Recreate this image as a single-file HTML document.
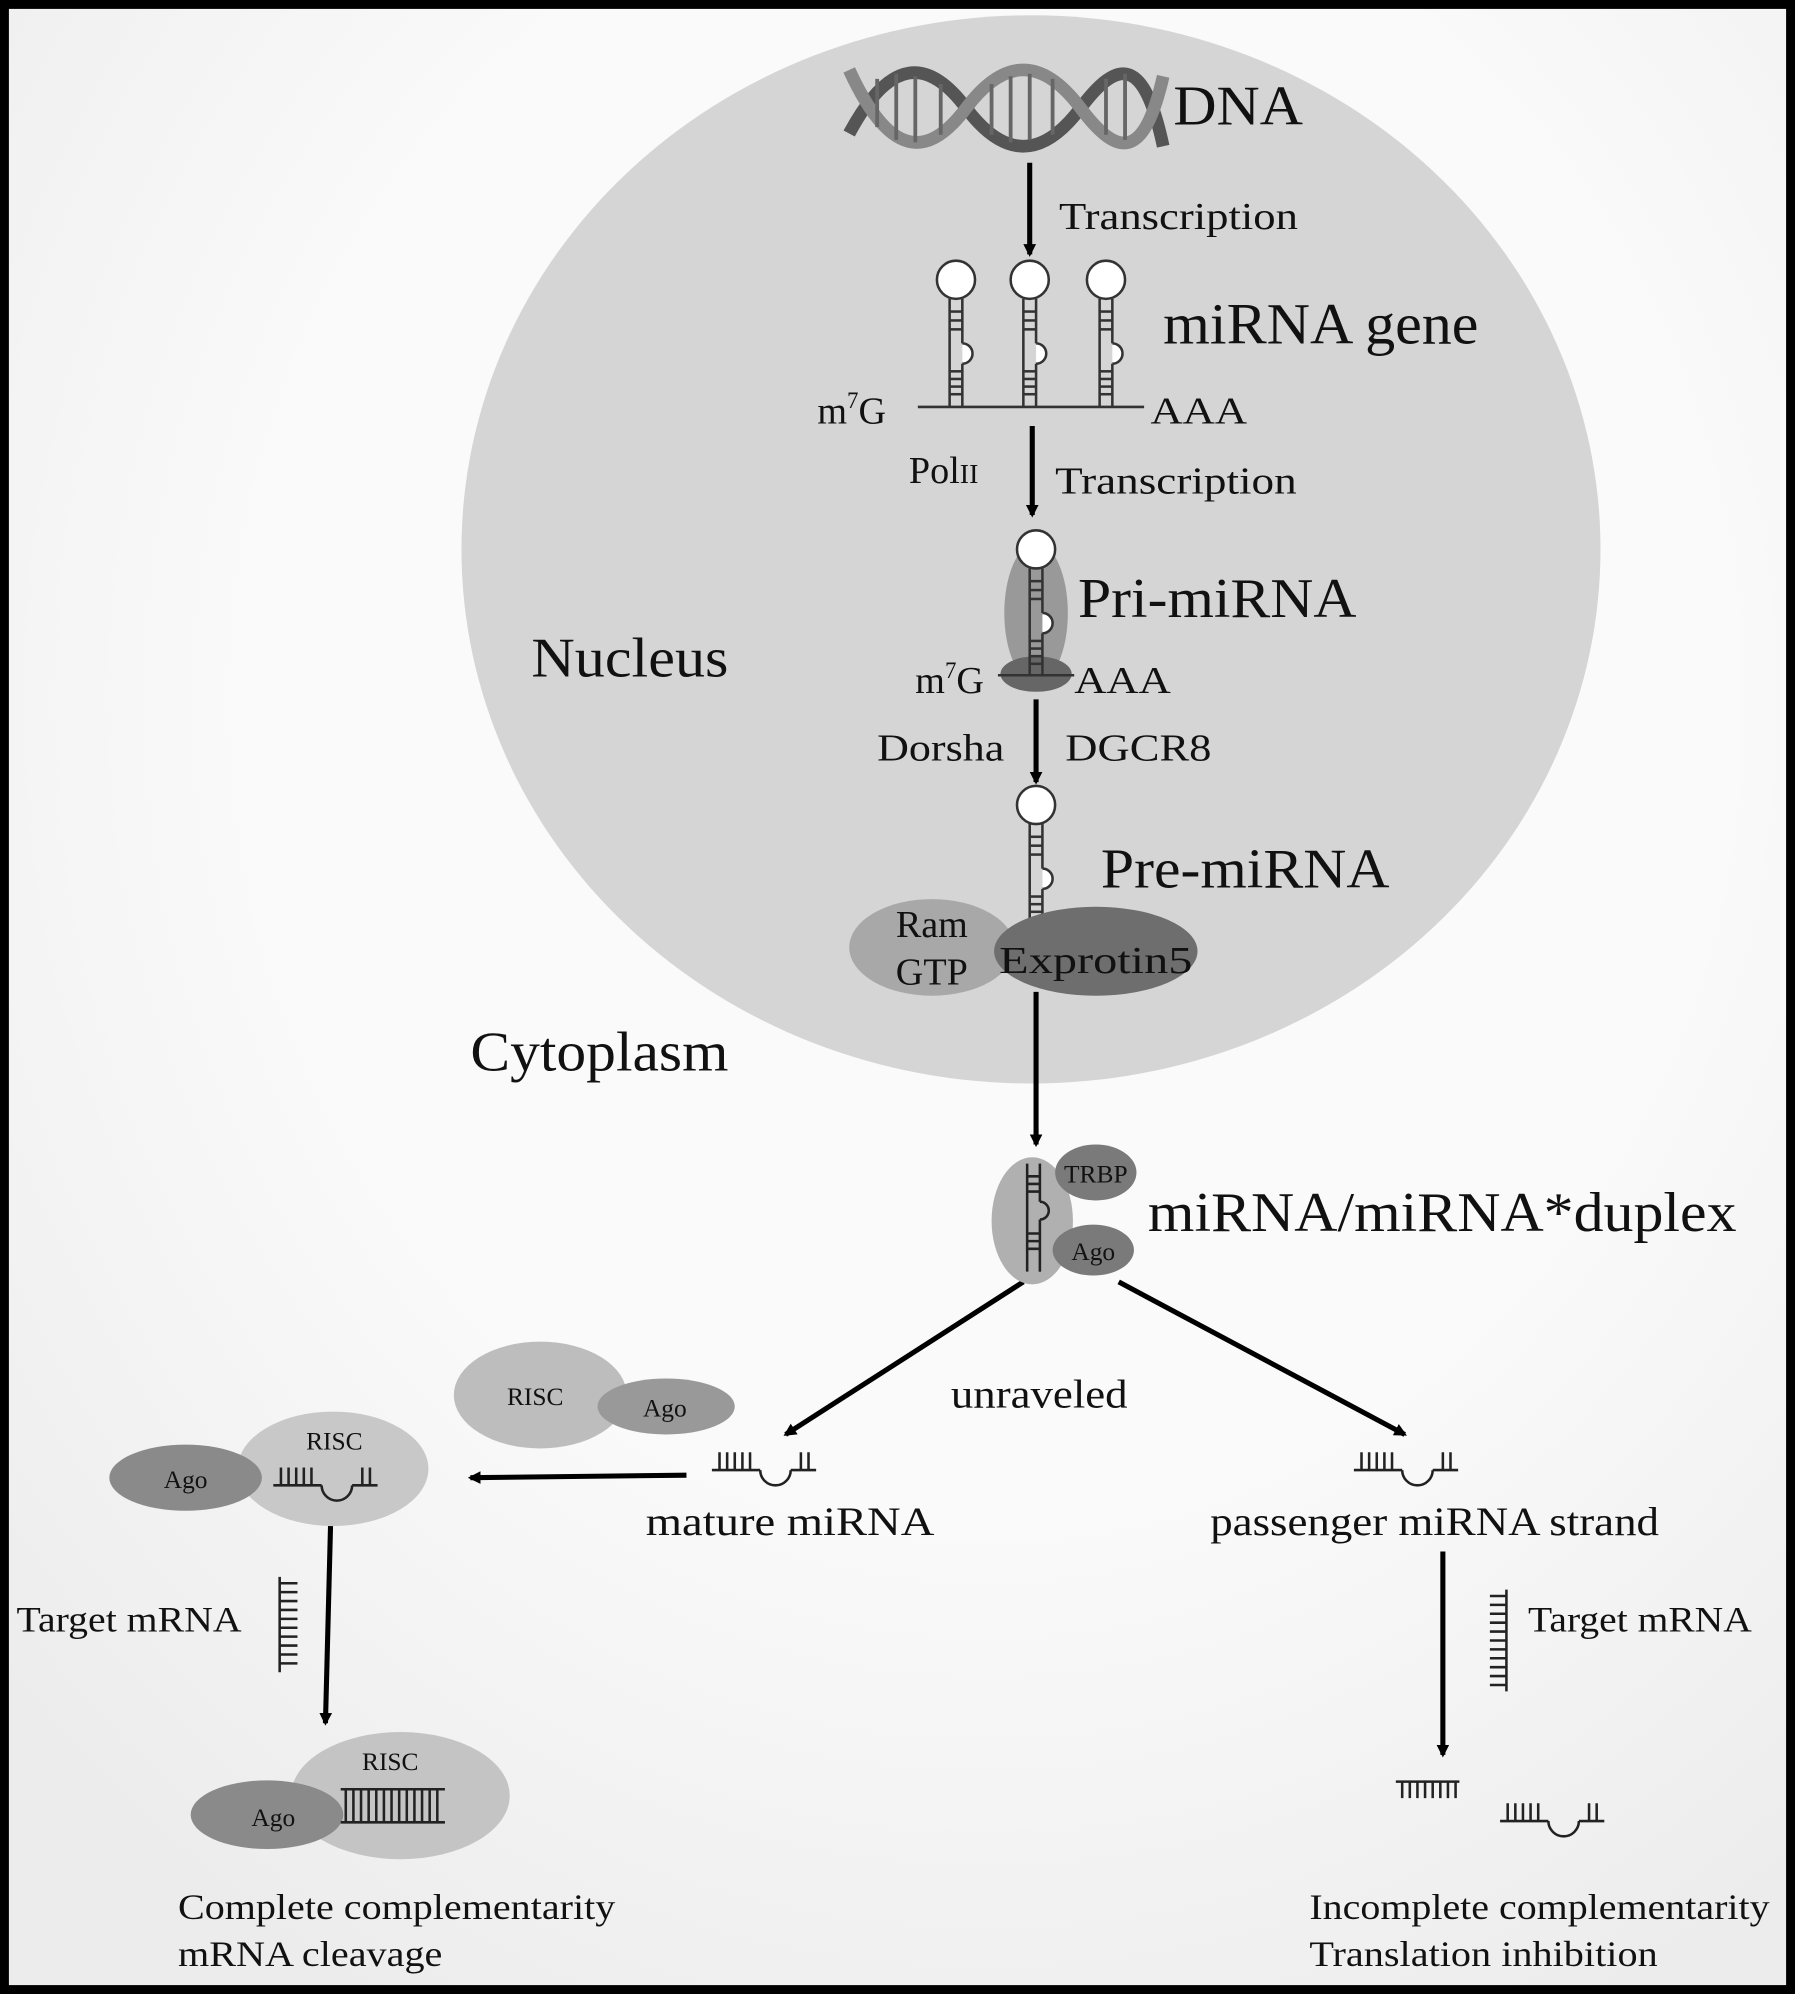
<!DOCTYPE html>
<html><head><meta charset="utf-8"><style>
html,body{margin:0;padding:0;background:#fff}
svg{display:block}
text{font-family:"Liberation Serif",serif;fill:#111}
</style></head><body>
<svg width="1795" height="1994" viewBox="0 0 1412 1568" preserveAspectRatio="none" xmlns="http://www.w3.org/2000/svg">
<defs>
<marker id="ah" markerWidth="10" markerHeight="10" refX="8" refY="5" orient="auto" markerUnits="userSpaceOnUse" viewBox="0 0 10 10">
<path d="M0,0 L10,5 L0,10 z" fill="#000"/></marker>
<radialGradient id="bg" cx="0.55" cy="0.35" r="0.75"><stop offset="0.55" stop-color="#fafafa"/><stop offset="1" stop-color="#ececec"/></radialGradient>
</defs>
<rect x="0" y="0" width="1412" height="1568" fill="#000"/>
<rect x="7" y="7" width="1398" height="1554" fill="url(#bg)"/>
<ellipse cx="811" cy="432" rx="448" ry="420" fill="#d5d5d5"/>

<g stroke="#555" stroke-width="10" fill="none">
<path d="M668,105 C700,45 730,45 760,85 C790,125 820,125 850,85 C880,45 900,45 915,115"/>
<path d="M668,55 C700,125 730,125 760,85 C790,45 820,45 850,85 C880,125 900,125 915,60" stroke="#888"/>
</g>
<g stroke="#666" stroke-width="3">
<line x1="690" y1="62" x2="690" y2="100"/><line x1="705" y1="58" x2="705" y2="110"/><line x1="720" y1="60" x2="720" y2="112"/><line x1="740" y1="66" x2="740" y2="106"/>
<line x1="780" y1="66" x2="780" y2="106"/><line x1="795" y1="60" x2="795" y2="112"/><line x1="810" y1="58" x2="810" y2="110"/><line x1="828" y1="62" x2="828" y2="106"/>
<line x1="870" y1="62" x2="870" y2="106"/><line x1="885" y1="58" x2="885" y2="110"/>
</g>
<text x="923" y="98" font-size="44" textLength="102" lengthAdjust="spacingAndGlyphs">DNA</text>

<g stroke="#000" stroke-width="4" marker-end="url(#ah)">
<line x1="810" y1="128" x2="810" y2="200"/>
<line x1="812" y1="335" x2="812" y2="405"/>
<line x1="815" y1="550" x2="815" y2="615"/>
<line x1="815" y1="780" x2="815" y2="900"/>
<line x1="805" y1="1008" x2="618" y2="1128"/>
<line x1="880" y1="1008" x2="1105" y2="1128"/>
<line x1="540" y1="1160" x2="370" y2="1162"/>
<line x1="260" y1="1200" x2="256" y2="1355"/>
<line x1="1135" y1="1220" x2="1135" y2="1380"/>
</g>
<text x="833" y="180" font-size="30" textLength="188" lengthAdjust="spacingAndGlyphs">Transcription</text>

<g id="hp" stroke="#333" stroke-width="2" fill="#fff">
<circle cx="752" cy="220" r="15"/>
<line x1="747" y1="235" x2="747" y2="320"/><line x1="757" y1="235" x2="757" y2="270"/>
<path d="M757,270 a8,8 0 1 1 0,16" fill="#fff"/><line x1="757" y1="286" x2="757" y2="320"/>
<g stroke-width="2"><line x1="747" y1="245" x2="757" y2="245"/><line x1="747" y1="252" x2="757" y2="252"/><line x1="747" y1="259" x2="757" y2="259"/><line x1="747" y1="292" x2="757" y2="292"/><line x1="747" y1="298" x2="757" y2="298"/><line x1="747" y1="304" x2="757" y2="304"/><line x1="747" y1="310" x2="757" y2="310"/></g>
</g>
<use href="#hp" x="58"/><use href="#hp" x="118"/>
<line x1="722" y1="320" x2="900" y2="320" stroke="#333" stroke-width="2"/>
<text x="643" y="333" font-size="30">m<tspan font-size="18" dy="-12">7</tspan><tspan dy="12">G</tspan></text>
<text x="905" y="333" font-size="30" textLength="76" lengthAdjust="spacingAndGlyphs">AAA</text>
<text x="915" y="270" font-size="46" textLength="248" lengthAdjust="spacingAndGlyphs">miRNA gene</text>
<text x="715" y="380" font-size="30">Pol<tspan font-size="22">II</tspan></text>
<text x="830" y="388" font-size="30" textLength="190" lengthAdjust="spacingAndGlyphs">Transcription</text>

<ellipse cx="815" cy="482" rx="25" ry="55" fill="#999"/>
<ellipse cx="815" cy="530" rx="28" ry="14" fill="#666"/>
<use href="#hp" x="63" y="212"/>
<line x1="785" y1="531" x2="845" y2="531" stroke="#333" stroke-width="2"/>
<text x="848" y="485" font-size="44" textLength="219" lengthAdjust="spacingAndGlyphs">Pri-miRNA</text>
<text x="720" y="545" font-size="30">m<tspan font-size="18" dy="-12">7</tspan><tspan dy="12">G</tspan></text>
<text x="845" y="545" font-size="30" textLength="76" lengthAdjust="spacingAndGlyphs">AAA</text>
<text x="418" y="532" font-size="44" textLength="155" lengthAdjust="spacingAndGlyphs">Nucleus</text>
<text x="690" y="598" font-size="30" textLength="100" lengthAdjust="spacingAndGlyphs">Dorsha</text>
<text x="838" y="598" font-size="30" textLength="115" lengthAdjust="spacingAndGlyphs">DGCR8</text>

<use href="#hp" x="63" y="413"/>
<text x="866" y="698" font-size="44" textLength="227" lengthAdjust="spacingAndGlyphs">Pre-miRNA</text>
<ellipse cx="733" cy="745" rx="65" ry="38" fill="#a8a8a8"/>
<ellipse cx="862" cy="748" rx="80" ry="35" fill="#6e6e6e"/>
<text x="733" y="737" font-size="30" text-anchor="middle">Ram</text>
<text x="733" y="774" font-size="30" text-anchor="middle">GTP</text>
<text x="862" y="765" font-size="30" text-anchor="middle" textLength="152" lengthAdjust="spacingAndGlyphs">Exprotin5</text>
<text x="370" y="842" font-size="44" textLength="203" lengthAdjust="spacingAndGlyphs">Cytoplasm</text>

<ellipse cx="812" cy="960" rx="32" ry="50" fill="#b0b0b0"/>
<ellipse cx="862" cy="922" rx="32" ry="22" fill="#7a7a7a"/>
<ellipse cx="860" cy="983" rx="32" ry="20" fill="#7a7a7a"/>
<g stroke="#222" stroke-width="2" fill="none"><line x1="808" y1="915" x2="808" y2="1000"/><line x1="818" y1="915" x2="818" y2="945"/><path d="M818,945 a7,7 0 1 1 0,14"/><line x1="818" y1="959" x2="818" y2="1000"/>
<path d="M808,925h10M808,931h10M808,937h10M808,970h10M808,976h10M808,982h10"/></g>
<text x="862" y="930" font-size="20" text-anchor="middle">TRBP</text>
<text x="860" y="991" font-size="20" text-anchor="middle">Ago</text>
<text x="903" y="968" font-size="44" textLength="463" lengthAdjust="spacingAndGlyphs">miRNA/miRNA*duplex</text>
<text x="748" y="1107" font-size="32" textLength="139" lengthAdjust="spacingAndGlyphs">unraveled</text>

<g id="mi" stroke="#222" stroke-width="2" fill="none">
<line x1="560" y1="1156" x2="598" y2="1156"/><path d="M598,1156 a12,12 0 0 0 24,0"/><line x1="622" y1="1156" x2="642" y2="1156"/>
<line x1="566" y1="1142" x2="566" y2="1156"/><line x1="572" y1="1142" x2="572" y2="1156"/><line x1="578" y1="1142" x2="578" y2="1156"/><line x1="584" y1="1142" x2="584" y2="1156"/><line x1="590" y1="1142" x2="590" y2="1156"/>
<line x1="630" y1="1142" x2="630" y2="1156"/><line x1="636" y1="1142" x2="636" y2="1156"/>
</g>
<use href="#mi" x="505"/>
<use href="#mi" x="620" y="276"/>
<text x="508" y="1207" font-size="32" textLength="227" lengthAdjust="spacingAndGlyphs">mature  miRNA</text>
<text x="952" y="1207" font-size="32" textLength="353" lengthAdjust="spacingAndGlyphs">passenger miRNA strand</text>

<ellipse cx="425" cy="1097" rx="68" ry="42" fill="#bdbdbd"/>
<ellipse cx="524" cy="1106" rx="54" ry="22" fill="#999"/>
<text x="421" y="1105" font-size="20" text-anchor="middle">RISC</text>
<text x="523" y="1114" font-size="20" text-anchor="middle">Ago</text>

<ellipse cx="262" cy="1155" rx="75" ry="45" fill="#c8c8c8"/>
<ellipse cx="146" cy="1162" rx="60" ry="26" fill="#8a8a8a"/>
<text x="263" y="1140" font-size="20" text-anchor="middle" fill="#444">RISC</text>
<text x="146" y="1170" font-size="20" text-anchor="middle">Ago</text>
<use href="#mi" x="-345" y="12"/>

<text x="13" y="1283" font-size="28" textLength="177" lengthAdjust="spacingAndGlyphs">Target mRNA</text>
<g stroke="#222" stroke-width="2"><line x1="220" y1="1240" x2="220" y2="1315"/>
<path d="M220,1245h14M220,1252h14M220,1259h14M220,1266h14M220,1273h14M220,1280h14M220,1287h14M220,1294h14M220,1301h14M220,1308h14"/></g>

<ellipse cx="315" cy="1412" rx="86" ry="50" fill="#c4c4c4"/>
<ellipse cx="210" cy="1427" rx="60" ry="27" fill="#8a8a8a"/>
<text x="307" y="1392" font-size="20" text-anchor="middle" fill="#444">RISC</text>
<text x="215" y="1436" font-size="20" text-anchor="middle">Ago</text>
<g stroke="#222" stroke-width="2"><line x1="268" y1="1407" x2="350" y2="1407"/><line x1="268" y1="1433" x2="350" y2="1433"/>
<path d="M272,1407v26M278,1407v26M284,1407v26M290,1407v26M296,1407v26M302,1407v26M308,1407v26M314,1407v26M320,1407v26M326,1407v26M332,1407v26M338,1407v26M344,1407v26"/></g>
<text x="140" y="1509" font-size="28" textLength="344" lengthAdjust="spacingAndGlyphs">Complete complementarity</text>
<text x="140" y="1546" font-size="28" textLength="208" lengthAdjust="spacingAndGlyphs">mRNA cleavage</text>

<g stroke="#222" stroke-width="2"><line x1="1185" y1="1250" x2="1185" y2="1330"/>
<path d="M1172,1255h13M1172,1262h13M1172,1269h13M1172,1276h13M1172,1283h13M1172,1290h13M1172,1297h13M1172,1304h13M1172,1311h13M1172,1318h13M1172,1325h13"/>
<line x1="1098" y1="1401" x2="1148" y2="1401"/>
<path d="M1103,1401v13M1109,1401v13M1115,1401v13M1121,1401v13M1127,1401v13M1133,1401v13M1139,1401v13M1145,1401v13"/></g>
<text x="1202" y="1283" font-size="28" textLength="176" lengthAdjust="spacingAndGlyphs">Target mRNA</text>
<text x="1030" y="1509" font-size="28" textLength="362" lengthAdjust="spacingAndGlyphs">Incomplete complementarity</text>
<text x="1030" y="1546" font-size="28" textLength="274" lengthAdjust="spacingAndGlyphs">Translation inhibition</text>
</svg>
</body></html>
